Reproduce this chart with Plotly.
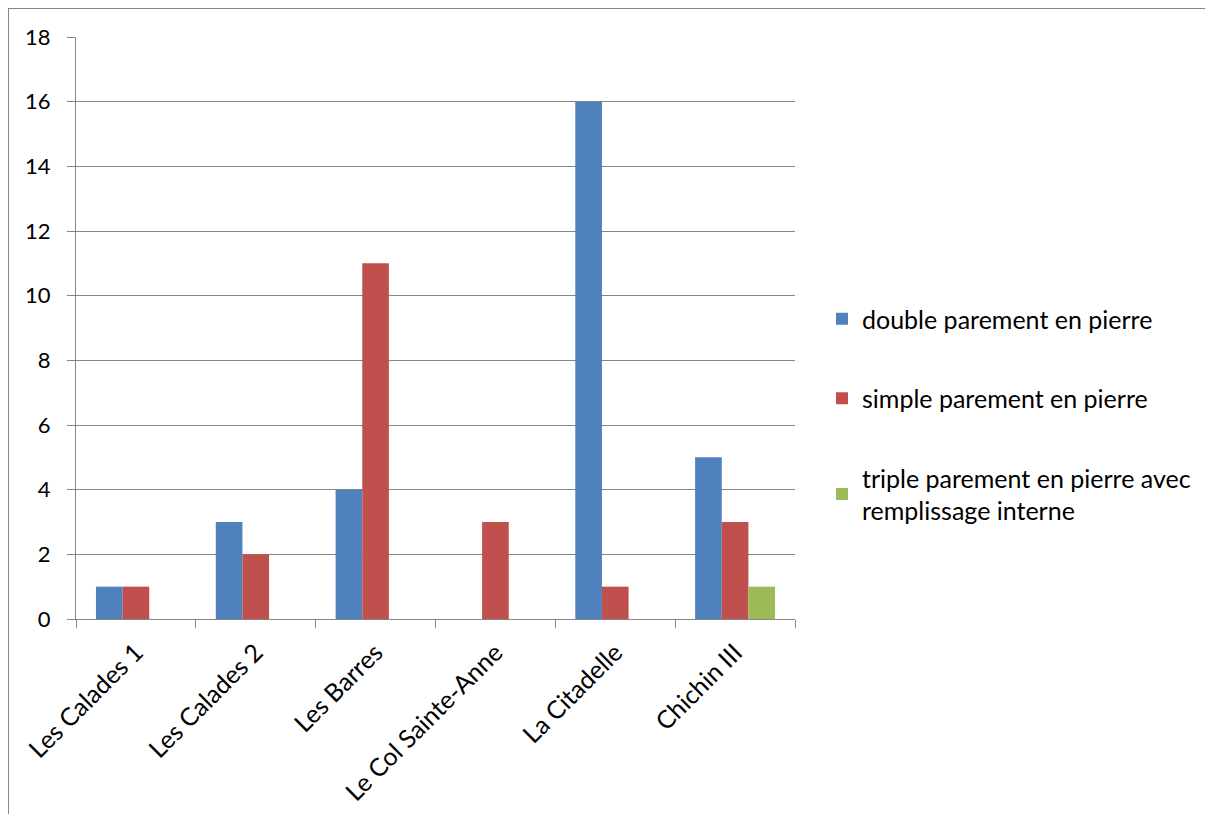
import plotly.graph_objects as go

categories = ["Les Calades 1", "Les Calades 2", "Les Barres", "Le Col Sainte-Anne", "La Citadelle", "Chichin III"]
series_names = ["double parement en pierre", "simple parement en pierre",
                "triple parement en pierre avec<br>remplissage interne"]
double_vals = [1, 3, 4, 0, 16, 5]
simple_vals = [1, 2, 11, 3, 1, 3]
triple_vals = [0, 0, 0, 0, 0, 1]
colors = ["#4F81BD", "#C0504D", "#9BBB59"]
y_ticks = [0, 2, 4, 6, 8, 10, 12, 14, 16, 18]

OFF = 8  # page body margin
W, H = 1213 - OFF, 814 - OFF
L, R, T, B = 76 - OFF, 795 - OFF, 37 - OFF, 619 - OFF
font_family = "Lato, Open Sans, sans-serif"
FS = 25

fig = go.Figure()
for i, (name, vals) in enumerate(zip(series_names, [double_vals, simple_vals, triple_vals])):
    fig.add_trace(go.Bar(
        x=categories, y=vals, name=name, marker_color=colors[i],
        marker_line_width=0, legendgroup=f"g{i}",
    ))

def px(x):
    return (x - OFF - L) / (R - L)

def py(y):
    return (B - (y - OFF)) / (B - T)

grid = "#868686"
fig.update_layout(
    width=W, height=H,
    margin=dict(l=L, r=W - R, t=T, b=H - B, pad=0, autoexpand=False),
    paper_bgcolor="white", plot_bgcolor="white",
    barmode="group", bargap=0.333, bargroupgap=0,
    font=dict(family=font_family, size=FS, color="#000000"),
    legend=dict(
        x=px(822), y=py(296), xanchor="left", yanchor="top",
        font=dict(size=FS), tracegroupgap=44, itemwidth=30,
        bgcolor="rgba(0,0,0,0)",
    ),
    xaxis=dict(
        type="category", tickson="boundaries", ticks="outside", ticklen=8,
        tickcolor=grid, showline=True, linecolor=grid, linewidth=1,
        tickangle=-45, showgrid=False, range=[-0.5, 5.5], automargin=False,
        tickfont=dict(size=FS), ticklabelstandoff=8,
    ),
    yaxis=dict(
        range=[0, 18], tickvals=y_ticks, ticks="outside", ticklen=8,
        tickcolor=grid, showline=True, linecolor=grid, linewidth=1,
        showgrid=True, gridcolor=grid, gridwidth=1, zeroline=False, automargin=False,
        tickfont=dict(size=22), ticklabelstandoff=12,
    ),
    shapes=[
        dict(type="line", xref="paper", yref="paper",
             x0=px(8), x1=px(8), y0=py(8), y1=py(830),
             line=dict(color="#868686", width=2)),
        dict(type="line", xref="paper", yref="paper",
             x0=px(8), x1=px(1230), y0=py(8), y1=py(8),
             line=dict(color="#868686", width=2)),
    ],
)

fig.write_html("out.html")
